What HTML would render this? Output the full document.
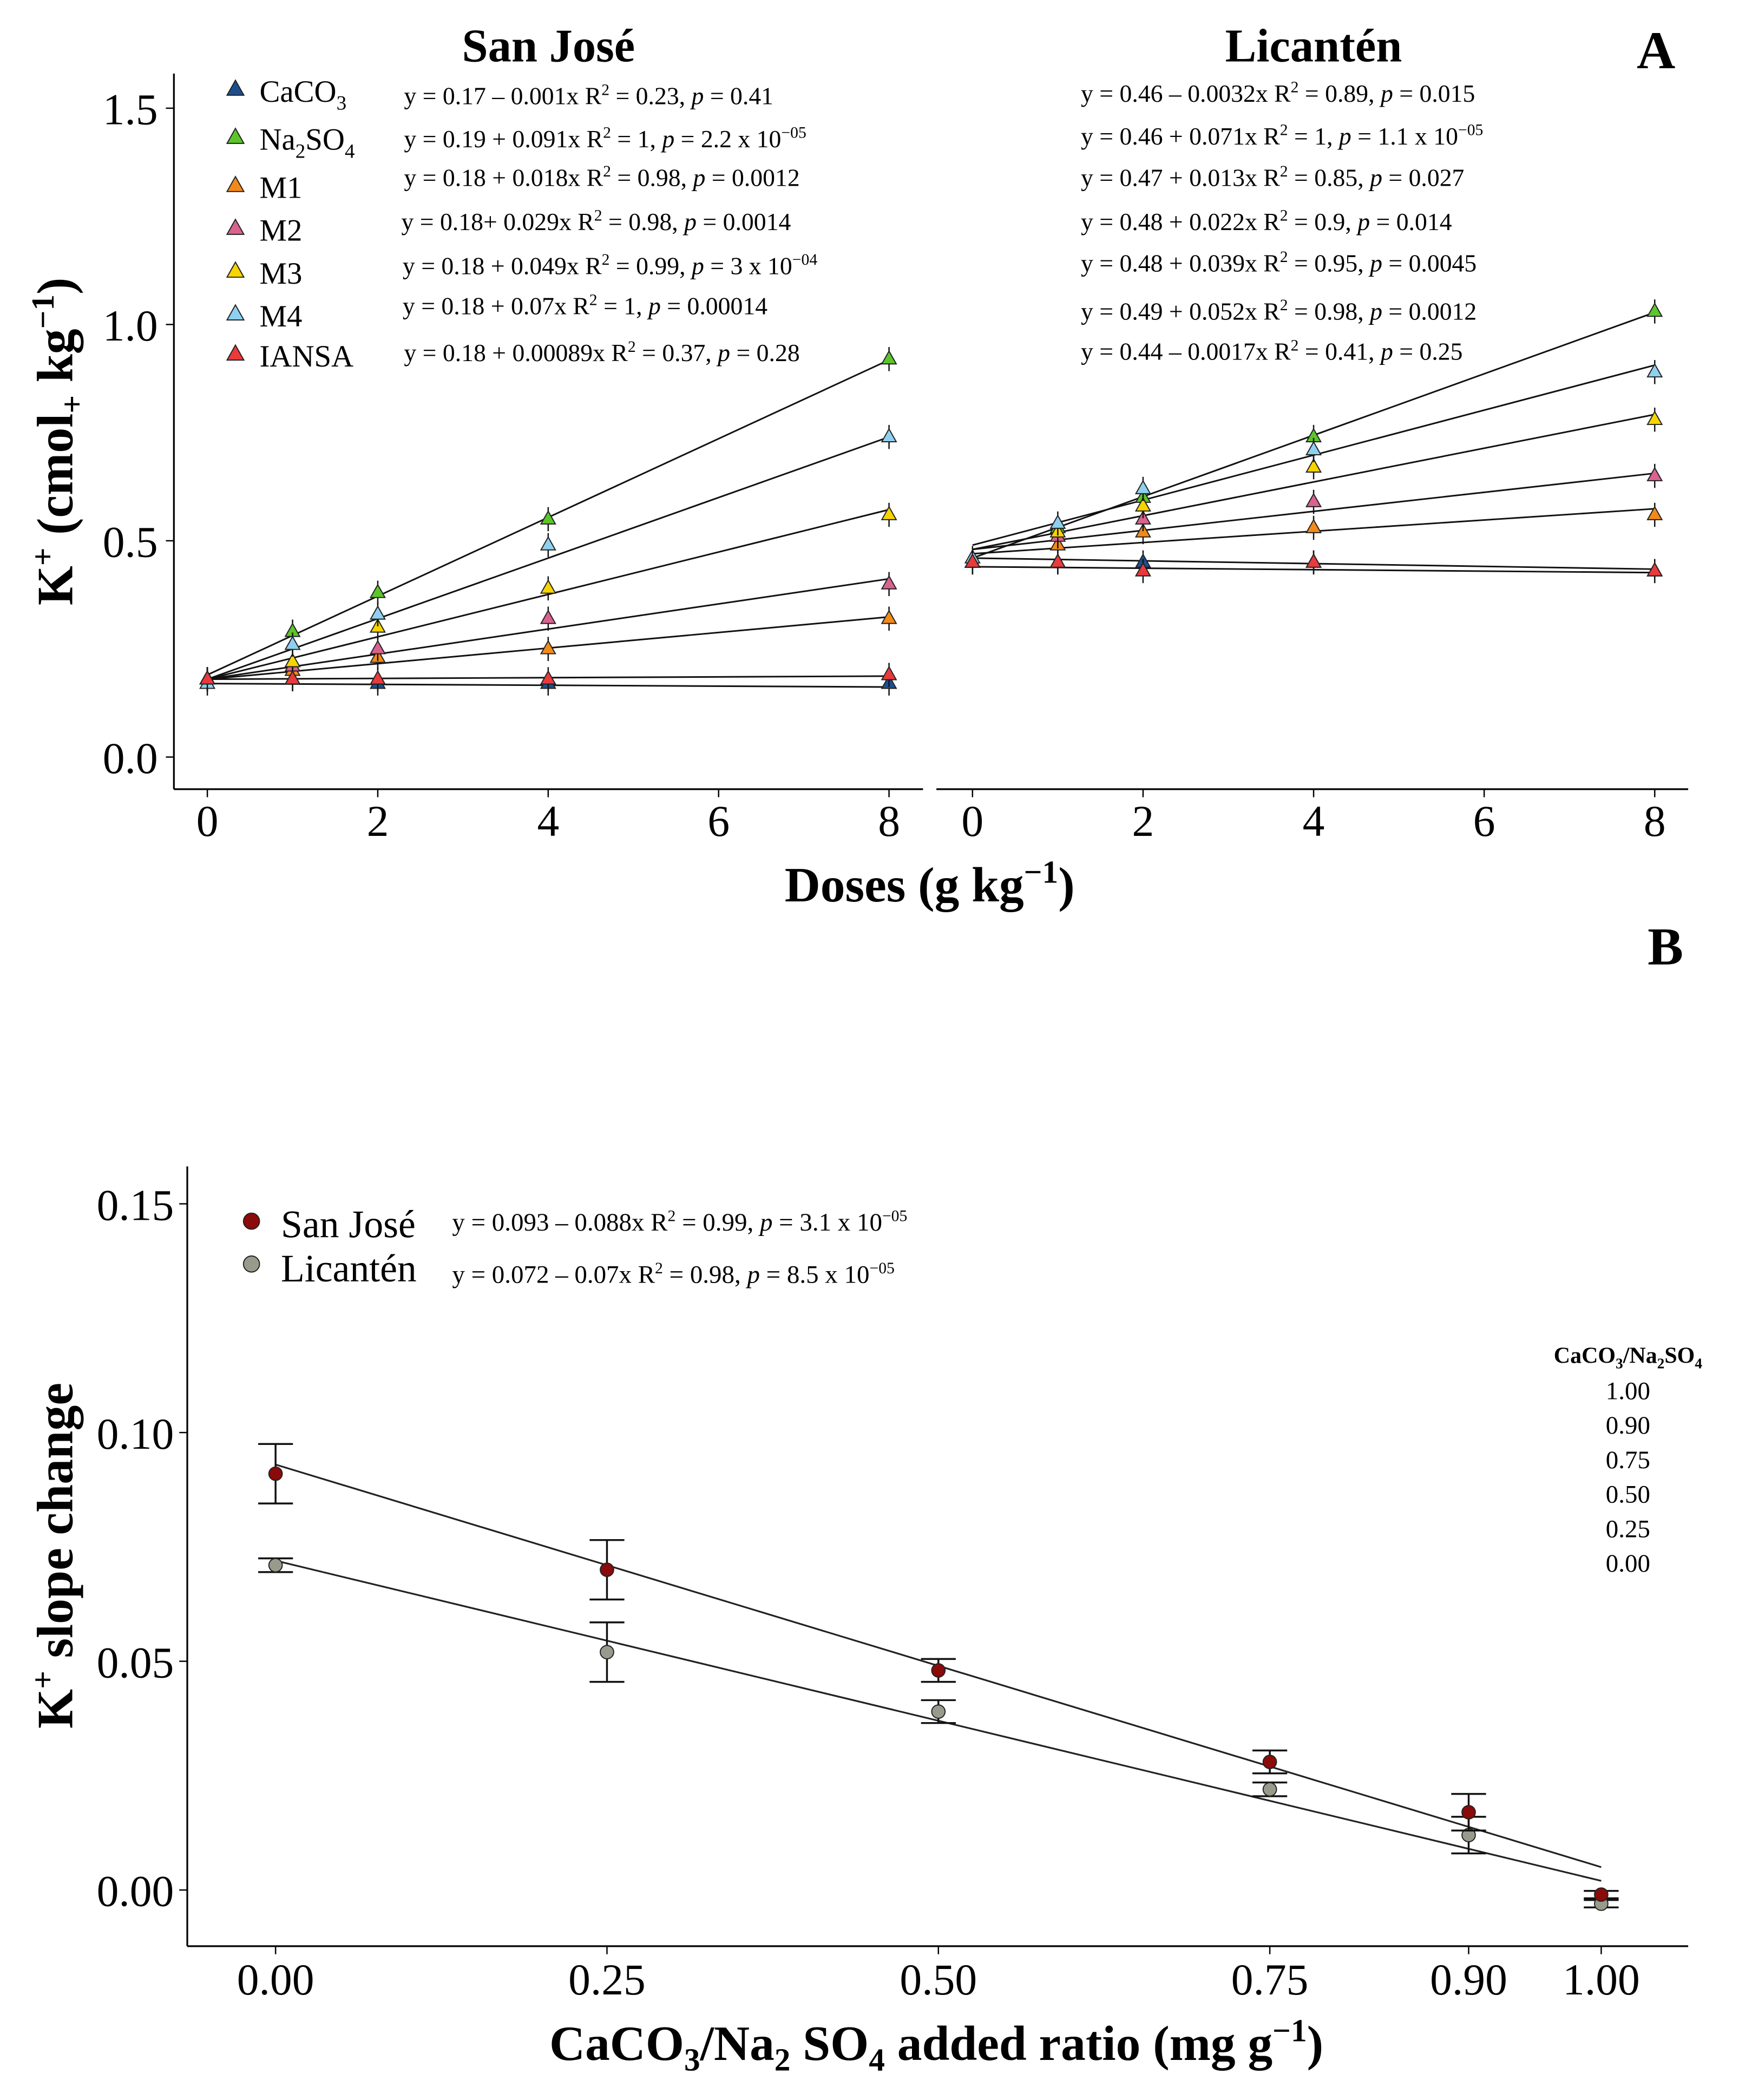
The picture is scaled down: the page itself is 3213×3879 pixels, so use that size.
<!DOCTYPE html>
<html><head><meta charset="utf-8"><style>
html,body{margin:0;padding:0;background:#fff;}
svg{display:block;font-family:"Liberation Serif",serif;}
</style></head><body>
<svg id="fig" width="3213" height="3879" viewBox="0 0 1300 1570" preserveAspectRatio="none" xmlns="http://www.w3.org/2000/svg">
<g id="pa"></g>
<g id="pb"></g>
</svg>
<script>
// ---- Panel A data ----
const doses = [0, 1, 2, 4, 8];
const seriesNames = ["CaCO3", "Na2SO4", "M1", "M2", "M3", "M4", "IANSA"];
const sjCaCO3 = [0.18, 0.18, 0.17, 0.17, 0.17];
const sjNa2SO4 = [0.18, 0.29, 0.38, 0.55, 0.92];
const sjM1 = [0.18, 0.20, 0.23, 0.25, 0.32];
const sjM2 = [0.18, 0.21, 0.25, 0.32, 0.40];
const sjM3 = [0.18, 0.22, 0.30, 0.39, 0.56];
const sjM4 = [0.17, 0.26, 0.33, 0.49, 0.74];
const sjIANSA = [0.18, 0.18, 0.18, 0.18, 0.19];
const liCaCO3 = [0.45, 0.45, 0.45, 0.45, 0.43];
const liNa2SO4 = [0.45, 0.53, 0.60, 0.74, 1.03];
const liM1 = [0.45, 0.49, 0.52, 0.53, 0.56];
const liM2 = [0.45, 0.51, 0.55, 0.59, 0.65];
const liM3 = [0.45, 0.52, 0.58, 0.67, 0.78];
const liM4 = [0.46, 0.54, 0.62, 0.71, 0.89];
const liIANSA = [0.45, 0.45, 0.43, 0.45, 0.43];
const sjIntercepts = [0.17, 0.19, 0.18, 0.18, 0.18, 0.18, 0.18];
const sjSlopes = [-0.001, 0.091, 0.018, 0.029, 0.049, 0.07, 0.00089];
const liIntercepts = [0.46, 0.46, 0.47, 0.48, 0.48, 0.49, 0.44];
const liSlopes = [-0.0032, 0.071, 0.013, 0.022, 0.039, 0.052, -0.0017];
const aYTicks = [0.0, 0.5, 1.0, 1.5];
const aYTickLabels = ["0.0", "0.5", "1.0", "1.5"];
const aXTicks = [0, 2, 4, 6, 8];
const sjEq = [
 ['y = 0.17 – 0.001x  R','2','= 0.23, ','p',' = 0.41',''],
 ['y = 0.19 + 0.091x  R','2','= 1, ','p',' = 2.2 x 10','−05'],
 ['y = 0.18 + 0.018x  R','2','= 0.98, ','p',' = 0.0012',''],
 ['y = 0.18+ 0.029x  R','2','= 0.98, ','p',' = 0.0014',''],
 ['y = 0.18 + 0.049x  R','2','= 0.99, ','p',' = 3 x 10','−04'],
 ['y = 0.18 + 0.07x  R','2','= 1, ','p',' = 0.00014',''],
 ['y = 0.18 + 0.00089x  R','2','= 0.37, ','p',' = 0.28','']];
const liEq = [
 ['y = 0.46 – 0.0032x  R','2','= 0.89, ','p',' = 0.015',''],
 ['y = 0.46 + 0.071x  R','2','= 1, ','p',' = 1.1 x 10','−05'],
 ['y = 0.47 + 0.013x  R','2','= 0.85, ','p',' = 0.027',''],
 ['y = 0.48 + 0.022x  R','2','= 0.9, ','p',' = 0.014',''],
 ['y = 0.48 + 0.039x  R','2','= 0.95, ','p',' = 0.0045',''],
 ['y = 0.49 + 0.052x  R','2','= 0.98, ','p',' = 0.0012',''],
 ['y = 0.44 – 0.0017x  R','2','= 0.41, ','p',' = 0.25','']];
// ---- Panel B data ----
const ratios = [0, 0.25, 0.5, 0.75, 0.9, 1.0];
const ratioLabels = ["0.00", "0.25", "0.50", "0.75", "0.90", "1.00"];
const sjSlope = [0.091, 0.070, 0.048, 0.028, 0.017, -0.001];
const sjErr = [0.0065, 0.0065, 0.0025, 0.0025, 0.004, 0.0008];
const liSlope = [0.071, 0.052, 0.039, 0.022, 0.012, -0.003];
const liErr = [0.0015, 0.0065, 0.0025, 0.0015, 0.004, 0.0008];
const sjFit = [0.093, -0.088];
const liFit = [0.072, -0.07];
const bYTicks = [0, 0.05, 0.10, 0.15];
const bYTickLabels = ["0.00", "0.05", "0.10", "0.15"];

const colors = ["#1d4f8f", "#5cc52a", "#f28a1a", "#d9628e", "#f7d400", "#8fd0f0", "#ea3a3c"];
const NS = "http://www.w3.org/2000/svg";
function mk(parent, tag, attrs, text) {
  const e = document.createElementNS(NS, tag);
  for (const k in attrs) e.setAttribute(k, attrs[k]);
  if (text !== undefined) e.textContent = text;
  parent.appendChild(e);
  return e;
}
const pa = document.getElementById('pa');
const pb = document.getElementById('pb');

// ===== Panel A =====
const yA = v => 566 - v * 323.4;
const sjX = d => 155 + d * 63.7;
const liX = d => 727 + d * 63.75;
const sjData = [sjCaCO3, sjNa2SO4, sjM1, sjM2, sjM3, sjM4, sjIANSA];
const liData = [liCaCO3, liNa2SO4, liM1, liM2, liM3, liM4, liIANSA];

let e;
e = mk(pa, 'line', {x1:130, y1:55, x2:130, y2:590, stroke:'#000', 'stroke-width':1.3});
 
e = mk(pa, 'line', {x1:130, y1:590, x2:690, y2:590, stroke:'#000', 'stroke-width':1.3});
 
e = mk(pa, 'line', {x1:700, y1:590, x2:1262, y2:590, stroke:'#000', 'stroke-width':1.3});
 
aYTicks.forEach((t, i) => {
  mk(pa, 'line', {x1:124, y1:yA(t), x2:130, y2:yA(t), stroke:'#000', 'stroke-width':1});
  const l = mk(pa, 'text', {x:118, y:yA(t) + 12, 'text-anchor':'end', 'font-size':33}, aYTickLabels[i]);
   
});
[sjX, liX].forEach(fx => aXTicks.forEach(t => {
  mk(pa, 'line', {x1:fx(t), y1:590, x2:fx(t), y2:596, stroke:'#000', 'stroke-width':1});
  const l = mk(pa, 'text', {x:fx(t), y:625, 'text-anchor':'middle', 'font-size':33}, String(t));
   
}));
e = mk(pa, 'text', {x:410, y:46, 'text-anchor':'middle', 'font-size':35, 'font-weight':'bold'}, 'San José');
 
e = mk(pa, 'text', {x:982, y:46, 'text-anchor':'middle', 'font-size':35, 'font-weight':'bold'}, 'Licantén');
 
e = mk(pa, 'text', {x:1238, y:51, 'text-anchor':'middle', 'font-size':40, 'font-weight':'bold'}, 'A');
 
e = mk(pa, 'text', {x:0, y:0, 'text-anchor':'middle', 'font-size':38, 'font-weight':'bold', transform:'translate(54,330) rotate(-90)'});
 
e.innerHTML = 'K<tspan dy="-14" font-size="24">+</tspan><tspan dy="14"> (cmol</tspan><tspan dy="8" font-size="24">+</tspan><tspan dy="-8"> kg</tspan><tspan dy="-14" font-size="24">−1</tspan><tspan dy="14">)</tspan>';
e = mk(pa, 'text', {x:695, y:674, 'text-anchor':'middle', 'font-size':37, 'font-weight':'bold'});
 
e.innerHTML = 'Doses (g kg<tspan dy="-14" font-size="24">−1</tspan><tspan dy="14">)</tspan>';

function tri(parent, cx, cy, col, s) {
  return mk(parent, 'path', {d:`M${cx},${cy - s} L${cx + s * 0.9},${cy + s * 0.6} L${cx - s * 0.9},${cy + s * 0.6} Z`, fill:col, stroke:'#222', 'stroke-width':0.8});
}
function drawPanel(data, ints, slopes, fx, key) {
  data.forEach((arr, si) => {
    const ln = mk(pa, 'line', {x1:fx(0), y1:yA(ints[si]), x2:fx(8), y2:yA(ints[si] + slopes[si] * 8), stroke:'#111', 'stroke-width':1.2});
    
    
  });
  data.forEach((arr, si) => {
    arr.forEach((v, i) => {
      mk(pa, 'line', {x1:fx(doses[i]), y1:yA(v) - 9, x2:fx(doses[i]), y2:yA(v) + 9, stroke:'#111', 'stroke-width':1});
      const t = tri(pa, fx(doses[i]), yA(v), colors[si], 6);
      
      
    });
  });
}
drawPanel(sjData, sjIntercepts, sjSlopes, sjX, 'san-jose');
drawPanel(liData, liIntercepts, liSlopes, liX, 'licanten');

const legY = [68, 104, 140, 172, 204, 236, 266];
const legLbl = ['CaCO<tspan dy="6" font-size="15">3</tspan>', 'Na<tspan dy="6" font-size="15">2</tspan><tspan dy="-6">SO</tspan><tspan dy="6" font-size="15">4</tspan>', 'M1', 'M2', 'M3', 'M4', 'IANSA'];
seriesNames.forEach((n, i) => {
  const g = mk(pa, 'g', {});
  
  
  tri(g, 176, legY[i] - 1, colors[i], 7);
  const t = mk(g, 'text', {x:194, y:legY[i] + 8, 'font-size':23});
  t.innerHTML = legLbl[i];
});
function eqText(x, y, parts, name) {
  const t = mk(pa, 'text', {x:x, y:y, 'font-size':18.5});
  
  
  t.innerHTML = `${parts[0]}<tspan dy="-7" font-size="12">${parts[1]}</tspan><tspan dy="7"> ${parts[2]}</tspan><tspan font-style="italic">${parts[3]}</tspan>${parts[4]}` + (parts[5] ? `<tspan dy="-7" font-size="12">${parts[5]}</tspan>` : '');
}
const sjEqY = [78, 110, 139, 172, 205, 235, 270];
const sjEqX = [302, 302, 302, 300, 301, 301, 302];
const liEqY = [76, 108, 139, 172, 203, 239, 269];
sjEq.forEach((p, i) => eqText(sjEqX[i], sjEqY[i], p, 'equation-san-jose-' + seriesNames[i].toLowerCase()));
liEq.forEach((p, i) => eqText(808, liEqY[i], p, 'equation-licanten-' + seriesNames[i].toLowerCase()));

// ===== Panel B =====
const yB = v => 1413 - v * 3420;
const xB = r => 206 + r * 991;
e = mk(pb, 'line', {x1:140, y1:872, x2:140, y2:1455, stroke:'#000', 'stroke-width':1.3});
 
e = mk(pb, 'line', {x1:140, y1:1455, x2:1262, y2:1455, stroke:'#000', 'stroke-width':1.3});
 
bYTicks.forEach((t, i) => {
  mk(pb, 'line', {x1:134, y1:yB(t), x2:140, y2:yB(t), stroke:'#000', 'stroke-width':1});
  const l = mk(pb, 'text', {x:130, y:yB(t) + 12, 'text-anchor':'end', 'font-size':33}, bYTickLabels[i]);
   
});
ratios.forEach((r, i) => {
  mk(pb, 'line', {x1:xB(r), y1:1455, x2:xB(r), y2:1461, stroke:'#000', 'stroke-width':1});
  const l = mk(pb, 'text', {x:xB(r), y:1491, 'text-anchor':'middle', 'font-size':33}, ratioLabels[i]);
   
});
e = mk(pb, 'text', {x:1245, y:721, 'text-anchor':'middle', 'font-size':40, 'font-weight':'bold'}, 'B');
 
e = mk(pb, 'text', {x:0, y:0, 'text-anchor':'middle', 'font-size':38, 'font-weight':'bold', transform:'translate(54,1163) rotate(-90)'});
 
e.innerHTML = 'K<tspan dy="-14" font-size="24">+</tspan><tspan dy="14">   slope change</tspan>';
e = mk(pb, 'text', {x:700, y:1540, 'text-anchor':'middle', 'font-size':37, 'font-weight':'bold'});
 
e.innerHTML = 'CaCO<tspan dy="8" font-size="24">3</tspan><tspan dy="-8">/Na</tspan><tspan dy="8" font-size="24">2</tspan><tspan dy="-8"> SO</tspan><tspan dy="8" font-size="24">4</tspan><tspan dy="-8"> added ratio (mg g</tspan><tspan dy="-14" font-size="24">−1</tspan><tspan dy="14">)</tspan>';

function drawB(vals, errs, fit, col, key) {
  const ln = mk(pb, 'line', {x1:xB(0), y1:yB(fit[0]), x2:xB(1), y2:yB(fit[0] + fit[1]), stroke:'#222', 'stroke-width':1.3});
  
  
  vals.forEach((v, i) => {
    const x = xB(ratios[i]);
    const g = mk(pb, 'g', {stroke:'#111', 'stroke-width':1.4});
    
    
    mk(g, 'line', {x1:x, y1:yB(v - errs[i]), x2:x, y2:yB(v + errs[i])});
    mk(g, 'line', {x1:x - 13, y1:yB(v - errs[i]), x2:x + 13, y2:yB(v - errs[i])});
    mk(g, 'line', {x1:x - 13, y1:yB(v + errs[i]), x2:x + 13, y2:yB(v + errs[i])});
    const c = mk(pb, 'circle', {cx:x, cy:yB(v), r:5, fill:col, stroke:'#222', 'stroke-width':0.8});
    
    
  });
}
drawB(liSlope, liErr, liFit, '#9a9a8c', 'licanten');
drawB(sjSlope, sjErr, sjFit, '#8b0a0a', 'san-jose');

e = mk(pb, 'circle', {cx:188, cy:913, r:6, fill:'#8b0a0a', stroke:'#222', 'stroke-width':0.8});
 
e = mk(pb, 'circle', {cx:188, cy:945, r:6, fill:'#9a9a8c', stroke:'#222', 'stroke-width':0.8});
 
e = mk(pb, 'text', {x:210, y:925, 'font-size':29}, 'San José');
 
e = mk(pb, 'text', {x:210, y:958, 'font-size':29}, 'Licantén');
 
e = mk(pb, 'text', {x:338, y:920, 'font-size':19});
 
e.innerHTML = 'y = 0.093 – 0.088x  R<tspan dy="-7" font-size="12">2</tspan><tspan dy="7"> = 0.99, </tspan><tspan font-style="italic">p</tspan> = 3.1 x 10<tspan dy="-7" font-size="12">−05</tspan>';
e = mk(pb, 'text', {x:338, y:959, 'font-size':19});
 
e.innerHTML = 'y = 0.072 – 0.07x  R<tspan dy="-7" font-size="12">2</tspan><tspan dy="7"> = 0.98, </tspan><tspan font-style="italic">p</tspan> = 8.5 x 10<tspan dy="-7" font-size="12">−05</tspan>';
e = mk(pb, 'text', {x:1217, y:1019, 'text-anchor':'middle', 'font-size':17, 'font-weight':'bold'});
 
e.innerHTML = 'CaCO<tspan dy="4" font-size="11">3</tspan><tspan dy="-4">/Na</tspan><tspan dy="4" font-size="11">2</tspan><tspan dy="-4">SO</tspan><tspan dy="4" font-size="11">4</tspan>';
["1.00", "0.90", "0.75", "0.50", "0.25", "0.00"].forEach((s, i) => {
  const t = mk(pb, 'text', {x:1217, y:1046 + i * 25.8, 'text-anchor':'middle', 'font-size':19}, s);
  
  
});
</script>
</body></html>
